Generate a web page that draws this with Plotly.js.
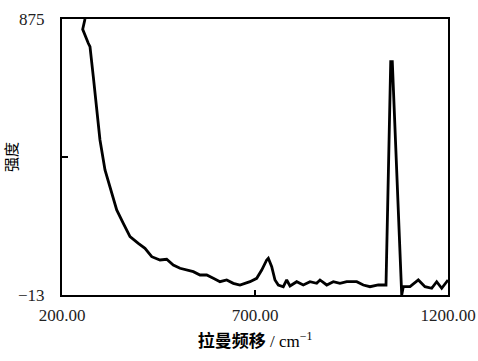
<!DOCTYPE html>
<html><head><meta charset="utf-8">
<script src="https://cdn.plot.ly/plotly-3.0.1.min.js"></script>
<style>html,body{margin:0;padding:0;background:#fff}</style>
</head><body><div id="chart" style="width:478px;height:361px"></div>
<script>
const ramanShift = [259.6, 253.6, 268.1, 272.5, 281.1, 289.9, 298.4, 311.4, 324.4, 341.7, 358.8, 376.2, 397.7, 415.0, 432.4, 453.9, 471.2, 488.3, 505.7, 523.1, 540.2, 557.5, 574.9, 592.0, 609.3, 626.7, 643.8, 661.1, 678.5, 687.1, 704.4, 717.4, 730.3, 734.5, 743.3, 751.8, 760.4, 773.3, 782.1, 790.7, 808.0, 825.1, 842.5, 859.8, 868.4, 885.8, 902.9, 920.2, 937.6, 963.5, 980.6, 997.9, 1019.4, 1036.8, 1039.4, 1051.6, 1055.7, 1080.1, 1084.2, 1101.6, 1123.1, 1140.4, 1157.8, 1170.7, 1183.7, 1200.0];
const intensity = [875, 841.9, 796.9, 785.9, 689.4, 582.2, 485.7, 389.2, 335.6, 260.5, 217.7, 174.7, 153.3, 137.3, 110.2, 99.6, 101.9, 83.5, 73.0, 67.4, 62.0, 51.3, 51.3, 40.7, 29.7, 35.3, 24.6, 19.2, 26.6, 29.8, 40.7, 67.4, 99.6, 105.1, 78.1, 35.3, 19.2, 13.7, 35.3, 15.9, 29.8, 19.2, 29.8, 24.6, 35.3, 19.2, 29.8, 24.6, 29.8, 29.8, 19.2, 13.7, 19.2, 19.2, 19.2, 737.6, 737.6, -13, 13.7, 13.7, 35.3, 13.7, 8.6, 29.8, 8.6, 35.3];
const xTickVals = [200, 700, 1200];
const xTickText = ['200.00', '700.00', '1200.00'];
const yTickVals = [-13, 875];
const yTickText = ['\u221213', '875'];
const yMidTick = [431];
const xTitle = '<span style="font-family:\'Noto Sans CJK SC\';font-weight:bold">拉曼频移</span> / cm<sup>\u22121</sup>';
const yTitle = '强度';

const trace = {
  x: ramanShift, y: intensity, type: 'scatter', mode: 'lines',
  line: {color: '#000', width: 2.8, shape: 'linear'},
  hoverinfo: 'skip'
};
const layout = {
  width: 478, height: 361,
  margin: {l: 62, r: 30, t: 19, b: 66},
  paper_bgcolor: '#fff', plot_bgcolor: '#fff',
  showlegend: false,
  font: {family: 'Liberation Serif, serif', color: '#000', size: 16},
  xaxis: {
    range: [200, 1200], tickmode: 'array', tickvals: xTickVals, ticktext: xTickText,
    ticks: 'inside', ticklen: 5, tickwidth: 2, tickcolor: '#000',
    showline: true, linecolor: '#000', linewidth: 2, mirror: true,
    showgrid: false, zeroline: false, ticklabelstandoff: 4,
    tickfont: {family: 'Liberation Serif, serif', size: 17, color: '#222'},
    title: {text: xTitle, standoff: 11, font: {family: 'Liberation Serif, serif', size: 17, color: '#000'}}
  },
  yaxis: {
    range: [-13, 875], tickmode: 'array', tickvals: yTickVals, ticktext: yTickText,
    ticks: 'inside', ticklen: 5, tickwidth: 2, tickcolor: '#000',
    minor: {tickmode: 'array', tickvals: yMidTick, ticks: 'inside', ticklen: 6, tickwidth: 2, tickcolor: '#000', showgrid: false},
    showline: true, linecolor: '#000', linewidth: 2, mirror: true,
    showgrid: false, zeroline: false, ticklabelstandoff: 12,
    tickfont: {family: 'Liberation Serif, serif', size: 17, color: '#222'},
    title: {text: yTitle, standoff: 6, font: {family: 'Noto Sans CJK SC', size: 15, color: '#000'}}
  }
};
Plotly.newPlot('chart', [trace], layout, {staticPlot: true, displayModeBar: false});
</script></body></html>
